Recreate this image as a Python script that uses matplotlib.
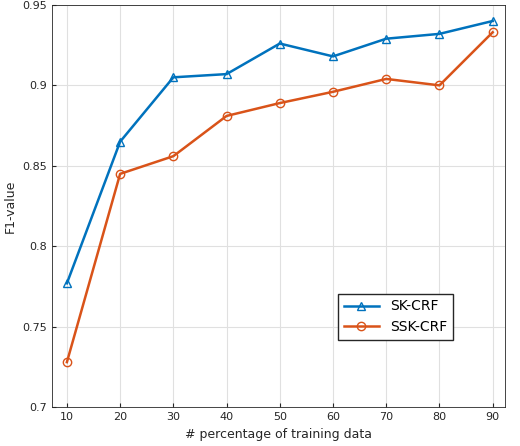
import matplotlib
matplotlib.use("Agg")
import matplotlib.pyplot as plt

x = [10, 20, 30, 40, 50, 60, 70, 80, 90]
sk_crf = [0.777, 0.865, 0.905, 0.907, 0.926, 0.918, 0.929, 0.932, 0.940]
ssk_crf = [0.728, 0.845, 0.856, 0.881, 0.889, 0.896, 0.904, 0.900, 0.933]
yticks = [0.7, 0.75, 0.8, 0.85, 0.9, 0.95]
ylabels = ["0.7", "0.75", "0.8", "0.85", "0.9", "0.95"]

fig = plt.figure(figsize=(5.2, 4.46), dpi=100)
ax = fig.add_axes([0.1, 0.087, 0.871, 0.902])
ax.plot(x, sk_crf, color="#0072BD", marker="^", mfc="none", ms=6, lw=1.8, label="SK-CRF")
ax.plot(x, ssk_crf, color="#D95319", marker="o", mfc="none", ms=6, lw=1.8, label="SSK-CRF")
ax.set_xlim(7.2, 92.3)
ax.set_ylim(0.7, 0.95)
ax.set_xticks(x)
ax.set_yticks(yticks)
ax.set_yticklabels(ylabels)
ax.grid(True, color="#e0e0e0", lw=0.8)
ax.set_axisbelow(True)
for s in ax.spines.values():
    s.set_color("#262626")
    s.set_linewidth(0.6)
ax.tick_params(labelsize=8, colors="#262626", direction="in", length=3)
ax.set_xlabel("# percentage of training data", fontsize=9, color="#262626")
ax.set_ylabel("F1-value", fontsize=9, color="#262626")
ax.legend(loc="lower right", bbox_to_anchor=(0.9, 0.15), fontsize=10, fancybox=False,
          edgecolor="#262626", framealpha=1, handlelength=2.5)
fig.savefig("out.png")
